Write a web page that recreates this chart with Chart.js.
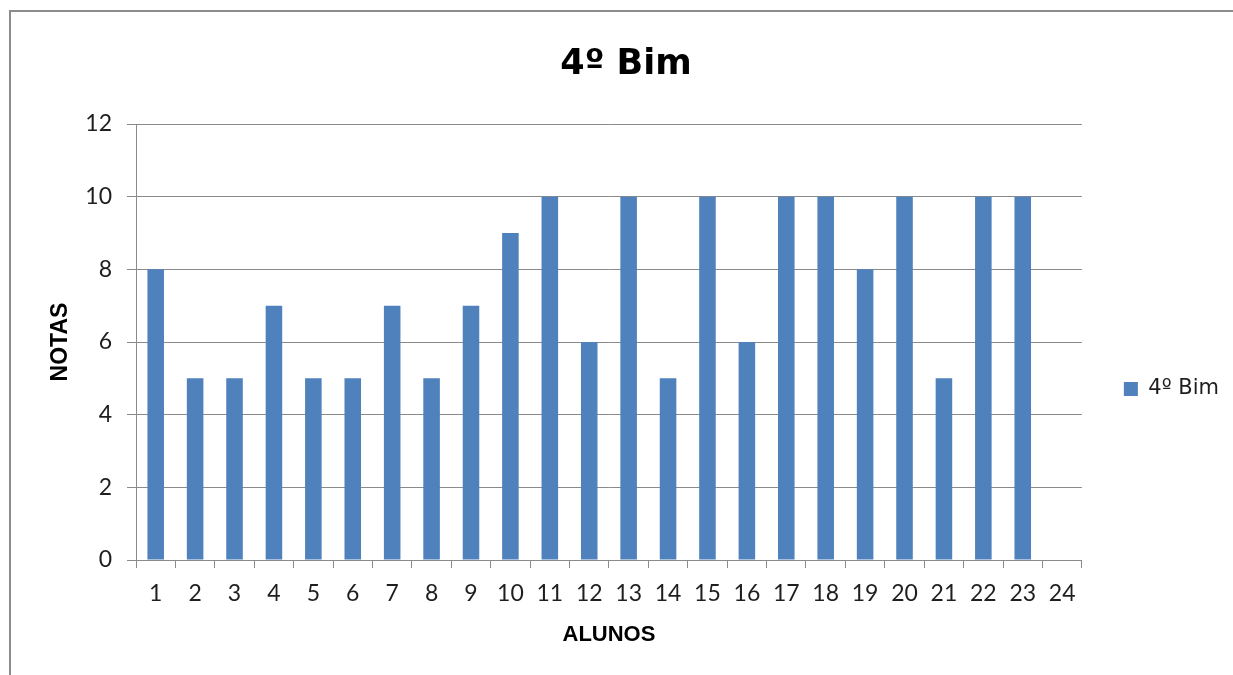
<!DOCTYPE html>
<html>
<head>
<meta charset="utf-8">
<title>4º Bim</title>
<script src="https://cdn.jsdelivr.net/npm/chart.js@4/dist/chart.umd.min.js"></script>
<style>
  html, body { margin: 0; padding: 0; background: #fff; overflow: hidden; }
  #wrap { position: relative; width: 1233px; height: 675px; }
  #frame {
    position: absolute; left: 9px; top: 10px; width: 1300px; height: 700px;
    border-top: 2px solid #8c8c8c; border-left: 2px solid #8c8c8c;
    pointer-events: none;
  }
  canvas { position: absolute; left: 0; top: 0; }
</style>
</head>
<body>
<div id="wrap">
  <canvas id="chart" width="1233" height="675"></canvas>
  <div id="frame"></div>
</div>
<script>
// Students (ALUNOS) and their grades (NOTAS) for the 4th bimester
const alunos = ['1','2','3','4','5','6','7','8','9','10','11','12','13','14','15','16','17','18','19','20','21','22','23','24'];
const notas = [8, 5, 5, 7, 5, 5, 7, 5, 7, 9, 10, 6, 10, 5, 10, 6, 10, 10, 8, 10, 5, 10, 10, null];
const serieNome = '4º Bim';
const tituloGrafico = '4º Bim';
const tituloX = 'ALUNOS';
const tituloY = 'NOTAS';
const yMin = 0, yMax = 12, yPasso = 2;

const gridColor = '#8a8a8a';
const barColor = '#4F81BD';
const textColor = '#1e1e1e';

new Chart(document.getElementById('chart'), {
  type: 'bar',
  data: {
    labels: alunos,
    datasets: [{
      label: serieNome,
      data: notas,
      backgroundColor: barColor,
      borderWidth: 0,
      categoryPercentage: 1.0,
      barPercentage: 0.42
    }]
  },
  options: {
    responsive: false,
    animation: false,
    devicePixelRatio: 1,
    layout: { padding: { left: 23, right: 4, top: 0, bottom: 0 } },
    plugins: {
      title: {
        display: true,
        text: tituloGrafico,
        color: '#000',
        font: { family: 'DejaVu Sans', size: 35, weight: 'bold' },
        padding: { top: 44, bottom: 38 }
      },
      legend: {
        display: true,
        position: 'right',
        title: {
          display: true,
          text: ' ',
          font: { size: 10 },
          padding: { top: 91, bottom: 0 }
        },
        labels: {
          boxWidth: 14,
          boxHeight: 14,
          padding: 42,
          color: textColor,
          font: { family: 'DejaVu Sans', size: 21 }
        }
      },
      tooltip: { enabled: false }
    },
    scales: {
      x: {
        offset: true,
        grid: {
          display: true,
          offset: true,
          drawOnChartArea: false,
          drawTicks: true,
          tickLength: 8,
          color: gridColor,
          lineWidth: 1
        },
        border: { display: true, color: gridColor, width: 1 },
        ticks: {
          autoSkip: false,
          maxRotation: 0,
          padding: 12,
          color: textColor,
          font: { family: 'Lato', size: 23 }
        },
        title: {
          display: true,
          text: tituloX,
          color: '#000',
          font: { family: 'Liberation Sans', size: 22, weight: 'bold' },
          padding: { top: 0, bottom: 27 }
        },
        afterFit: (scale) => { scale.height = 115; }
      },
      y: {
        min: yMin,
        max: yMax,
        grid: {
          color: gridColor,
          lineWidth: 1,
          drawTicks: true,
          tickLength: 9
        },
        border: { display: true, color: gridColor, width: 1 },
        ticks: {
          stepSize: yPasso,
          padding: 15,
          color: textColor,
          font: { family: 'Lato', size: 23 }
        },
        title: {
          display: true,
          text: tituloY,
          color: '#000',
          font: { family: 'Liberation Sans', size: 23, weight: 'bold' },
          padding: { top: 24, bottom: 0 }
        },
        afterFit: (scale) => { scale.width = 113; }
      }
    }
  }
});
</script>
</body>
</html>
